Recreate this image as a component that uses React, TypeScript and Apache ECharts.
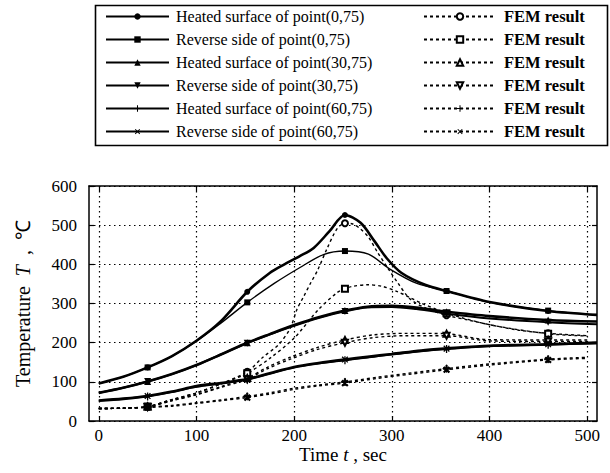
import React, { useEffect, useRef } from "react";
import * as echarts from "echarts";

// ---------- data ----------
const X_TICKS = [0, 100, 200, 300, 400, 500];
const MARK_T = [50, 152, 252, 356, 460];

const EXP_NAMES = [
  "Heated surface of point(0,75)",
  "Reverse side of point(0,75)",
  "Heated surface of point(30,75)",
  "Reverse side of point(30,75)",
  "Heated surface of point(60,75)",
  "Reverse side of point(60,75)",
];
const FEM_IDS = ["FEM1", "FEM2", "FEM3", "FEM4", "FEM5", "FEM6"];
const FEM_LABEL = "FEM result";

const HEAT_0_75 = [[0,96],[25,113],[50,137],[75,166],[100,205],[125,255],[152,330],[175,378],[190,400],[205,420],[220,442],[236,484],[252,526],[268,506],[282,460],[295,415],[310,378],[334,348],[356,332],[400,304],[460,281],[510,271]];
const REV_0_75 = [[0,96],[25,113],[50,137],[75,166],[100,204],[125,250],[152,303],[180,352],[206,392],[230,425],[252,434],[276,426],[298,388],[325,352],[356,332],[400,303],[460,282],[510,271]];
const HEAT_30_75 = [[0,72],[25,85],[50,101],[75,120],[100,143],[125,170],[152,200],[175,222],[200,245],[225,265],[252,282],[275,292],[300,294],[325,290],[345,283],[356,279],[400,268],[460,258],[510,254]];
const REV_30_75 = [[0,72],[25,85],[50,101],[75,120],[100,143],[125,170],[152,199],[175,221],[200,243],[225,263],[252,280],[275,290],[300,291],[325,286],[345,279],[356,274],[400,262],[460,252],[510,247]];
const HEAT_60_75 = [[0,52],[25,57],[50,63],[75,74],[100,87],[125,96],[152,106],[175,121],[200,137],[225,147],[252,155],[275,162],[300,170],[330,178],[356,184],[400,191],[460,195],[510,198]];
const REV_60_75 = [[0,52],[25,57],[50,64],[75,75],[100,89],[125,97],[152,107],[175,122],[200,138],[225,148],[252,157],[275,164],[300,171],[330,180],[356,185],[400,192],[460,196],[510,200]];

const FEM_HEAT_0_75 = [[0,32],[25,33],[50,37],[75,55],[100,72],[125,95],[152,126],[168,163],[184,195],[196,237],[203,286],[210,319],[217,353],[224,385],[234,442],[244,491],[252,505],[260,503],[268,490],[276,470],[285,432],[296,390],[306,353],[319,311],[335,288],[356,270],[380,257],[400,246],[430,232],[460,224],[500,218]];
const FEM_REV_0_75 = [[0,32],[25,33],[50,37],[75,55],[100,72],[125,95],[152,122],[175,160],[200,212],[225,285],[244,328],[252,338],[260,344],[275,348],[290,344],[305,331],[318,316],[330,301],[345,286],[356,275],[400,246],[460,223],[500,217]];
const FEM_HEAT_30_75 = [[0,32],[25,33],[50,37],[75,53],[100,68],[125,88],[152,110],[173,138],[196,163],[224,188],[252,207],[281,220],[315,224],[356,223],[398,208],[460,207],[500,207]];
const FEM_REV_30_75 = [[0,32],[25,33],[50,36],[75,52],[100,67],[125,86],[152,107],[173,134],[196,158],[224,183],[252,200],[281,213],[315,218],[356,218],[398,205],[460,203],[500,203]];
const FEM_HEAT_60_75 = [[0,32],[25,33],[50,36],[75,40],[100,47],[125,54],[152,63],[175,72],[200,84],[225,92],[252,100],[285,112],[320,123],[356,134],[400,146],[460,158],[500,163]];
const FEM_REV_60_75 = [[0,32],[25,33],[50,35],[75,38],[100,45],[125,52],[152,60],[175,69],[200,81],[225,90],[252,97],[285,109],[320,120],[356,131],[400,143],[460,156],[500,160]];

// ---------- styling ----------
const SERIF = "Liberation Serif";
const PLUS = "path://M4.2,0h1.6v10h-1.6zM0,4.2h10v1.6h-10z";

const EXP_DATA = [HEAT_0_75, REV_0_75, HEAT_30_75, REV_30_75, HEAT_60_75, REV_60_75];
const FEM_DATA = [FEM_HEAT_0_75, FEM_REV_0_75, FEM_HEAT_30_75, FEM_REV_30_75, FEM_HEAT_60_75, FEM_REV_60_75];

const EXP_STYLE = [
  { symbol: "circle", size: 6, rotate: 0, width: 2.6 },
  { symbol: "rect", size: 6, rotate: 0, width: 1.4 },
  { symbol: "triangle", size: 7, rotate: 0, width: 2.6 },
  { symbol: "triangle", size: 7, rotate: 180, width: 2.0 },
  { symbol: PLUS, size: 8, rotate: 0, width: 1.6 },
  { symbol: PLUS, size: 8, rotate: 45, width: 2.8 },
];
const FEM_STYLE = [
  { symbol: "emptyCircle", size: 6, rotate: 0 },
  { symbol: "emptyRect", size: 6, rotate: 0 },
  { symbol: "emptyTriangle", size: 6, rotate: 0 },
  { symbol: "emptyTriangle", size: 6, rotate: 180 },
  { symbol: PLUS, size: 7, rotate: 0 },
  { symbol: PLUS, size: 7, rotate: 45 },
];

function toData(pts: number[][]) {
  return pts.map(([t, v]) =>
    MARK_T.includes(t) ? { value: [t, v] } : { value: [t, v], symbol: "none" }
  );
}

function buildOption() {
  const series: any[] = [];
  EXP_DATA.forEach((pts, i) => {
    const s = EXP_STYLE[i];
    series.push({
      name: EXP_NAMES[i],
      type: "line",
      smooth: 0.3,
      clip: false,
      symbol: s.symbol,
      symbolSize: s.size,
      symbolRotate: s.rotate,
      showSymbol: true,
      lineStyle: { color: "#000", width: s.width, type: "solid" },
      itemStyle: { color: "#000" },
      data: toData(pts),
      z: 3,
    });
  });
  FEM_DATA.forEach((pts, i) => {
    const s = FEM_STYLE[i];
    series.push({
      name: FEM_IDS[i],
      type: "line",
      smooth: 0.3,
      clip: false,
      symbol: s.symbol,
      symbolSize: s.size,
      symbolRotate: s.rotate,
      showSymbol: true,
      lineStyle: { color: "#000", width: 1.4, type: [3, 3] },
      itemStyle: { color: "#000", borderColor: "#000" },
      data: toData(pts),
      z: 2,
    });
  });

  const axisLine = { show: true, onZero: false, lineStyle: { color: "#000", width: 1.5 } };
  const tickStyle = { color: "#000", width: 1.2 };
  const gridDots = { show: true, lineStyle: { color: "#000", width: 1.2, type: [1.5, 3.5] } };
  const tickRich = { s: { fontFamily: SERIF, fontSize: 17, color: "#000" } };
  const nameRich = {
    a: { fontFamily: SERIF, fontSize: 19, color: "#000" },
    i: { fontFamily: SERIF, fontSize: 19, color: "#000", fontStyle: "italic" },
  };
  const yNameRich = {
    a: { fontFamily: SERIF, fontSize: 20, color: "#000" },
    i: { fontFamily: SERIF, fontSize: 20, color: "#000", fontStyle: "italic" },
  };
  const legendRich = { s: { fontFamily: SERIF, fontSize: 16, color: "#000", lineHeight: 17 } };
  const femRich = { s: { fontFamily: SERIF, fontSize: 16.5, fontWeight: "bold", color: "#000", lineHeight: 17 } };
  const tickFmt = (v: number) => `{s|${v}}`;

  return {
    animation: false,
    backgroundColor: "#fff",
    textStyle: { fontFamily: SERIF },
    grid: { left: 89, right: 13, top: 186, bottom: 47 },
    xAxis: [
      {
        type: "value", min: -10, max: 510, position: "bottom",
        axisLine,
        axisTick: { show: true, inside: true, length: 5, customValues: X_TICKS, lineStyle: tickStyle },
        axisLabel: { customValues: X_TICKS, margin: 6, color: "#000", fontSize: 17, fontFamily: SERIF, formatter: tickFmt, rich: tickRich },
        splitLine: gridDots,
        name: "{a|Time }{i|t}{a| , sec}",
        nameLocation: "middle",
        nameGap: 22,
        nameTextStyle: { color: "#000", fontFamily: SERIF, fontSize: 19, rich: nameRich },
      },
      {
        type: "value", min: -10, max: 510, position: "top",
        axisLine,
        axisTick: { show: true, inside: true, length: 5, customValues: X_TICKS, lineStyle: tickStyle },
        axisLabel: { show: false, customValues: X_TICKS },
        splitLine: { show: false },
      },
    ],
    yAxis: [
      {
        type: "value", min: 0, max: 600, interval: 100, position: "left",
        axisLine,
        axisTick: { show: true, inside: true, length: 5, lineStyle: tickStyle },
        axisLabel: { margin: 12, color: "#000", fontSize: 17, fontFamily: SERIF, formatter: tickFmt, rich: tickRich },
        splitLine: gridDots,
        name: "{a|Temperature  }{i|T}{a|  ,  ℃}",
        nameLocation: "middle",
        nameRotate: 90,
        nameGap: 56,
        nameTextStyle: { color: "#000", fontFamily: SERIF, fontSize: 20, rich: yNameRich },
      },
      {
        type: "value", min: 0, max: 600, interval: 100, position: "right",
        axisLine,
        axisTick: { show: true, inside: true, length: 5, lineStyle: tickStyle },
        axisLabel: { show: false },
        splitLine: { show: false },
      },
    ],
    legend: [
      {
        data: EXP_NAMES,
        orient: "vertical",
        left: 100,
        top: 3,
        itemWidth: 63,
        itemHeight: 8,
        itemGap: 6,
        selectedMode: false,
        formatter: (name: string) => `{s|${name}}`,
        textStyle: { color: "#000", fontSize: 16, fontFamily: SERIF, lineHeight: 17, padding: [0, 0, 0, 2], rich: legendRich },
      },
      {
        data: FEM_IDS,
        orient: "vertical",
        left: 418,
        top: 3,
        itemWidth: 72,
        itemHeight: 8,
        itemGap: 6,
        selectedMode: false,
        formatter: () => `{s|${FEM_LABEL}}`,
        textStyle: { color: "#000", fontSize: 16.5, fontWeight: "bold", fontFamily: SERIF, lineHeight: 17, padding: [0, 0, 0, 3], rich: femRich },
      },
    ],
    graphic: [
      {
        type: "rect",
        left: 93,
        top: 3,
        shape: { width: 512, height: 140 },
        style: { fill: "none", stroke: "#000", lineWidth: 1.6 },
        z: 10,
      },
    ],
    series,
  };
}

export default function App() {
  const ref = useRef<HTMLDivElement>(null);
  useEffect(() => {
    if (!ref.current) return;
    const chart = echarts.init(ref.current, undefined, { renderer: "svg" });
    chart.setOption(buildOption() as any);
    return () => chart.dispose();
  }, []);
  return (
    <div
      ref={ref}
      style={{ position: "absolute", left: 0, top: 0, width: 610, height: 473, background: "#fff" }}
    />
  );
}
